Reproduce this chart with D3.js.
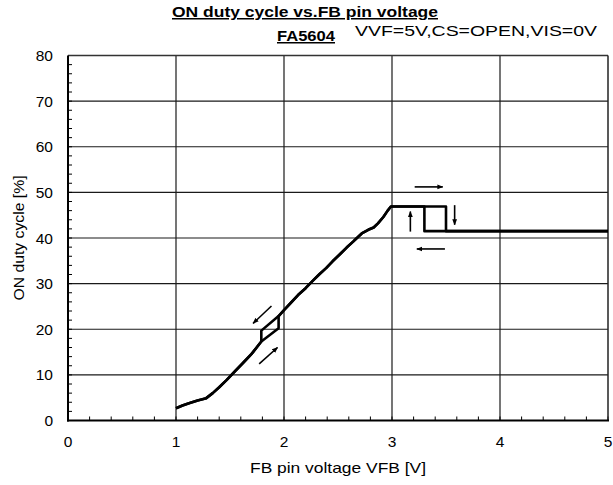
<!DOCTYPE html>
<html><head><meta charset="utf-8">
<script src="https://cdn.jsdelivr.net/npm/d3@7"></script>
<style>body{margin:0;background:#fff}svg{display:block}text{font-family:"Liberation Sans",Arial,sans-serif;fill:#000}</style>
</head><body>
<svg id="c" width="613" height="485"></svg>
<script>
// ---- data ----
const xTicks = [0,1,2,3,4,5];
const yTicks = [0,10,20,30,40,50,60,70,80];
// rising sweep of VFB
const riseX = [1.00,1.06,1.12,1.20,1.28,1.34,1.40,1.47,1.55,1.62,1.70,1.79,1.95,1.95,2.00,2.06,2.13,2.20,2.27,2.33,2.39,2.45,2.52,2.58,2.64,2.67,2.72,2.78,2.83,2.87,2.92,2.96,2.99,3.50,3.50,5.00];
const riseY = [2.7,3.3,3.8,4.4,4.9,6.0,7.3,8.9,10.9,12.6,14.6,17.3,20.2,22.9,24.2,25.7,27.5,29.0,30.7,32.1,33.4,34.9,36.5,37.9,39.2,39.9,41.0,41.8,42.3,43.2,44.6,46.0,46.9,46.9,41.5,41.5];
// falling sweep of VFB
const fallX = [5.00,3.30,3.30,2.99,2.96,2.92,2.87,2.83,2.78,2.72,2.67,2.64,2.58,2.52,2.45,2.39,2.33,2.27,2.20,2.13,2.06,2.00,1.95,1.79,1.79,1.70,1.62,1.55,1.47,1.40,1.34,1.28,1.20,1.12,1.06,1.00];
const fallY = [41.5,41.5,46.9,46.9,46.0,44.6,43.2,42.3,41.8,41.0,39.9,39.2,37.9,36.5,34.9,33.4,32.1,30.7,29.0,27.5,25.7,24.2,22.9,19.7,17.3,14.6,12.6,10.9,8.9,7.3,6.0,4.9,4.4,3.8,3.3,2.7];
// direction arrows (from -> to)
const arrowX1 = [1.884,1.77,3.21,3.17,3.49,3.58];
const arrowY1 = [25.1,12.4,51.2,41.4,37.6,47.2];
const arrowX2 = [1.714,1.94,3.47,3.17,3.23,3.58];
const arrowY2 = [21.3,16.0,51.2,45.8,37.6,42.9];

const svg = d3.select('#c');
const L=68,R=608,T=55.5,B=420.5;
const x = d3.scaleLinear().domain([0,5]).range([L,R]);
const y = d3.scaleLinear().domain([0,80]).range([B,T]);

// grid
svg.append('g').selectAll('line').data(xTicks.slice(1,-1)).join('line')
  .attr('x1',d=>x(d)).attr('x2',d=>x(d)).attr('y1',T).attr('y2',B)
  .attr('stroke','#1a1a1a').attr('stroke-width',1.2);
svg.append('g').selectAll('line').data(yTicks.slice(1,-1)).join('line')
  .attr('y1',d=>y(d)).attr('y2',d=>y(d)).attr('x1',L).attr('x2',R)
  .attr('stroke','#1a1a1a').attr('stroke-width',1.2);

// minor ticks
const xMinor = d3.range(0,5.001,0.2);
svg.append('g').selectAll('line').data(xMinor).join('line')
  .attr('x1',d=>x(d)).attr('x2',d=>x(d)).attr('y1',B).attr('y2',B-4)
  .attr('stroke','#000').attr('stroke-width',1);
const yMinor = d3.range(0,80.001,2);
svg.append('g').selectAll('line').data(yMinor).join('line')
  .attr('y1',d=>y(d)).attr('y2',d=>y(d)).attr('x1',L).attr('x2',L+4)
  .attr('stroke','#000').attr('stroke-width',1);

// frame
svg.append('line').attr('x1',L).attr('x2',R).attr('y1',T).attr('y2',T).attr('stroke','#333').attr('stroke-width',1.5);
svg.append('line').attr('x1',R).attr('x2',R).attr('y1',T).attr('y2',B).attr('stroke','#222').attr('stroke-width',1.5);
svg.append('line').attr('x1',L).attr('x2',L).attr('y1',T).attr('y2',B+1).attr('stroke','#000').attr('stroke-width',2);
svg.append('line').attr('x1',L-1).attr('x2',R+1).attr('y1',B).attr('y2',B).attr('stroke','#000').attr('stroke-width',2);

// tick labels
svg.append('g').selectAll('text').data(yTicks).join('text')
  .attr('x',53).attr('y',d=>y(d)+5.5).attr('text-anchor','end').attr('font-size',15.5).text(d=>d);
svg.append('g').selectAll('text').data(xTicks).join('text')
  .attr('x',d=>x(d)).attr('y',447).attr('text-anchor','middle').attr('font-size',15.5).text(d=>d);

// axis titles
svg.append('text').attr('x',250).attr('y',473).attr('font-size',15)
  .attr('textLength',176).attr('lengthAdjust','spacingAndGlyphs').text('FB pin voltage VFB [V]');
svg.append('text').attr('transform','translate(24,238) rotate(-90)').attr('text-anchor','middle').attr('font-size',15)
  .attr('textLength',125).attr('lengthAdjust','spacingAndGlyphs').text('ON duty cycle [%]');

// titles
svg.append('text').attr('x',172).attr('y',17).attr('font-size',15).attr('font-weight','bold')
  .attr('textLength',266).attr('lengthAdjust','spacingAndGlyphs')
  .attr('text-decoration','underline').text('ON duty cycle vs.FB pin voltage');
svg.append('text').attr('x',277).attr('y',41).attr('font-size',15).attr('font-weight','bold')
  .attr('textLength',58).attr('lengthAdjust','spacingAndGlyphs')
  .attr('text-decoration','underline').text('FA5604');
svg.append('text').attr('x',355).attr('y',36).attr('font-size',14)
  .attr('textLength',242).attr('lengthAdjust','spacingAndGlyphs').text('VVF=5V,CS=OPEN,VIS=0V');

// curves
const line = d3.line().x(d=>x(d[0])).y(d=>y(d[1]));
svg.append('path').datum(riseX.map((v,i)=>[v,riseY[i]])).attr('d',line)
  .attr('fill','none').attr('stroke','#000').attr('stroke-width',2.6).attr('stroke-linejoin','round');
svg.append('path').datum(fallX.map((v,i)=>[v,fallY[i]])).attr('d',line)
  .attr('fill','none').attr('stroke','#000').attr('stroke-width',2.6).attr('stroke-linejoin','round');

// arrows
svg.append('defs').append('marker').attr('id','ah').attr('viewBox','0 0 10 10').attr('refX',9).attr('refY',5)
  .attr('markerWidth',6).attr('markerHeight',6).attr('markerUnits','userSpaceOnUse').attr('orient','auto')
  .append('path').attr('d','M0,1L10,5L0,9Z').attr('fill','#000');
svg.append('g').selectAll('line').data(arrowX1.map((v,i)=>i)).join('line')
  .attr('x1',i=>x(arrowX1[i])).attr('y1',i=>y(arrowY1[i]))
  .attr('x2',i=>x(arrowX2[i])).attr('y2',i=>y(arrowY2[i]))
  .attr('stroke','#000').attr('stroke-width',1.6).attr('marker-end','url(#ah)');
</script>
</body></html>
